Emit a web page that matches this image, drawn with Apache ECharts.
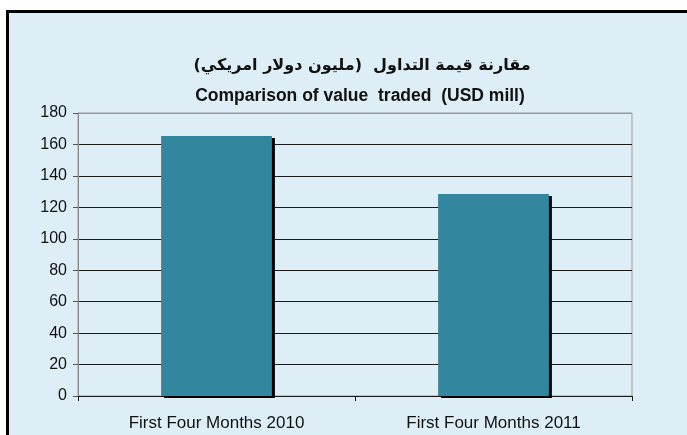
<!DOCTYPE html>
<html>
<head>
<meta charset="utf-8">
<script src="https://cdn.jsdelivr.net/npm/echarts@6/dist/echarts.min.js"></script>
<style>
  html, body { margin: 0; padding: 0; background: #fff; }
  #chart { width: 687px; height: 435px; }
</style>
</head>
<body>
<div id="chart"></div>
<script>
// 数据
var categories = ['First Four Months 2010', 'First Four Months 2011'];
var values = [165.4, 128.5];
var titleAr = 'مقارنة قيمة التداول  (مليون دولار امريكي)';
var titleEn = 'Comparison of value  traded  (USD mill)';

var chart = echarts.init(document.getElementById('chart'));

// 网格线颜色：最上面一条是灰色
var splitColors = ['#1a1a1a', '#1a1a1a', '#1a1a1a', '#1a1a1a', '#1a1a1a',
                   '#1a1a1a', '#1a1a1a', '#1a1a1a', '#1a1a1a', '#9a9a9a'];

var option = {
  animation: false,
  // 外框
  graphic: [{
    type: 'rect',
    z: -10,
    shape: { x: 7.5, y: 11.5, width: 720, height: 460 },
    style: { fill: '#DDEEF7', stroke: '#000', lineWidth: 3 }
  }],
  title: [{
    text: titleAr,
    left: 357,
    top: 53,
    textAlign: 'center',
    textStyle: { fontFamily: 'DejaVu Sans', fontWeight: 'bold', fontSize: 16, color: '#111' }
  }, {
    text: titleEn,
    left: 355,
    top: 82,
    textAlign: 'center',
    textStyle: { fontFamily: 'Liberation Sans', fontWeight: 'bold', fontSize: 17.5, color: '#111' }
  }],
  grid: {
    left: 78, top: 113, right: 55, bottom: 39,
    show: true, borderColor: '#9a9a9a', borderWidth: 1, backgroundColor: 'transparent'
  },
  xAxis: {
    type: 'category',
    data: categories,
    axisLine: { lineStyle: { color: '#1a1a1a', width: 1 } },
    axisTick: { show: true, length: 5, lineStyle: { color: '#1a1a1a' } },
    axisLabel: { margin: 19, fontSize: 17, color: '#111', fontFamily: 'Liberation Sans' }
  },
  yAxis: {
    type: 'value',
    min: 0, max: 180, interval: 20,
    axisLine: { show: true, lineStyle: { color: '#888' } },
    axisTick: { show: true, length: 5, lineStyle: { color: '#555' } },
    axisLabel: { margin: 11, fontSize: 16, color: '#111', fontFamily: 'Liberation Sans' },
    splitLine: { lineStyle: { color: splitColors, width: 1 } }
  },
  series: [{
    type: 'bar',
    data: values,
    barWidth: '40%',
    itemStyle: {
      color: '#32879F',
      borderWidth: 0,
      shadowColor: '#000',
      shadowBlur: 0,
      shadowOffsetX: 3,
      shadowOffsetY: 2
    }
  }]
};

chart.setOption(option);
</script>
</body>
</html>
